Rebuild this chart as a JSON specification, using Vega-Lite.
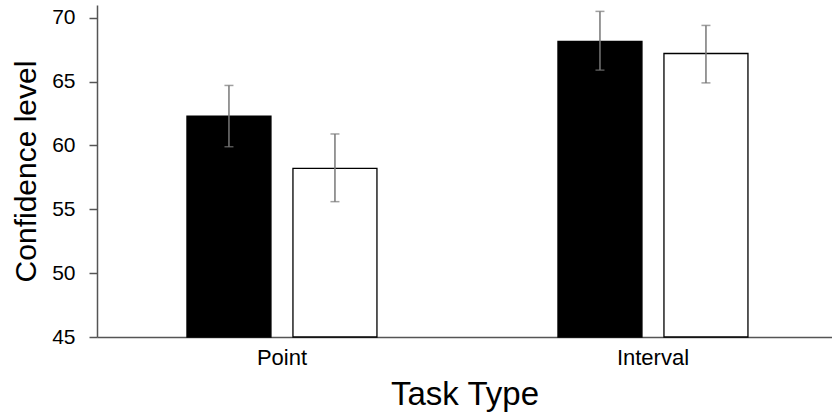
{
  "$schema": "https://vega.github.io/schema/vega-lite/v6.json",
  "width": 735,
  "height": 332,
  "autosize": "none",
  "padding": {"left": 97, "top": 5, "right": 0, "bottom": 81},
  "background": "white",
  "config": {
    "view": {"stroke": null},
    "font": "Liberation Sans",
    "axis": {"grid": false, "labelFont": "Liberation Sans", "titleFont": "Liberation Sans", "labelColor": "black", "titleColor": "black", "titleFontWeight": "normal", "domainColor": "#555", "domainWidth": 1.5, "tickColor": "#555", "tickWidth": 1.5}
  },
  "data": {
    "values": [
      {"task": "Point", "cond": "Condition 1", "mean": 62.3, "lo": 59.9, "hi": 64.7},
      {"task": "Point", "cond": "Condition 2", "mean": 58.2, "lo": 55.6, "hi": 60.9},
      {"task": "Interval", "cond": "Condition 1", "mean": 68.15, "lo": 65.9, "hi": 70.5},
      {"task": "Interval", "cond": "Condition 2", "mean": 67.2, "lo": 64.9, "hi": 69.4}
    ]
  },
  "encoding": {
    "x": {
      "field": "task",
      "type": "nominal",
      "sort": ["Point", "Interval"],
      "scale": {"paddingInner": 0.4879, "paddingOuter": 0.2345, "align": 0.517},
      "axis": {"title": "Task Type", "titleFontSize": 33, "labelFontSize": 22, "labelAngle": 0, "ticks": false, "tickSize": 0, "labelPadding": 10, "titlePadding": 10}
    },
    "xOffset": {
      "field": "cond",
      "type": "nominal",
      "scale": {"paddingInner": 0.2075, "paddingOuter": 0}
    }
  },
  "layer": [
    {
      "mark": {"type": "bar", "stroke": "black", "strokeWidth": 1.3},
      "encoding": {
        "y": {
          "field": "mean",
          "type": "quantitative",
          "scale": {"domain": [45, 71], "zero": false, "nice": false},
          "axis": {"title": "Confidence level", "titleFontSize": 30, "titlePadding": 10, "labelFontSize": 21, "labelPadding": 14, "tickSize": 8, "values": [45, 50, 55, 60, 65, 70]}
        },
        "y2": {"datum": 45},
        "fill": {"field": "cond", "type": "nominal", "scale": {"domain": ["Condition 1", "Condition 2"], "range": ["black", "white"]}, "legend": null}
      }
    },
    {
      "mark": {"type": "rule", "color": "#777", "strokeWidth": 1.5},
      "encoding": {
        "y": {"field": "lo", "type": "quantitative"},
        "y2": {"field": "hi"}
      }
    },
    {
      "mark": {"type": "tick", "color": "#777", "thickness": 1.5, "size": 9},
      "encoding": {"y": {"field": "lo", "type": "quantitative"}}
    },
    {
      "mark": {"type": "tick", "color": "#777", "thickness": 1.5, "size": 9},
      "encoding": {"y": {"field": "hi", "type": "quantitative"}}
    }
  ]
}
